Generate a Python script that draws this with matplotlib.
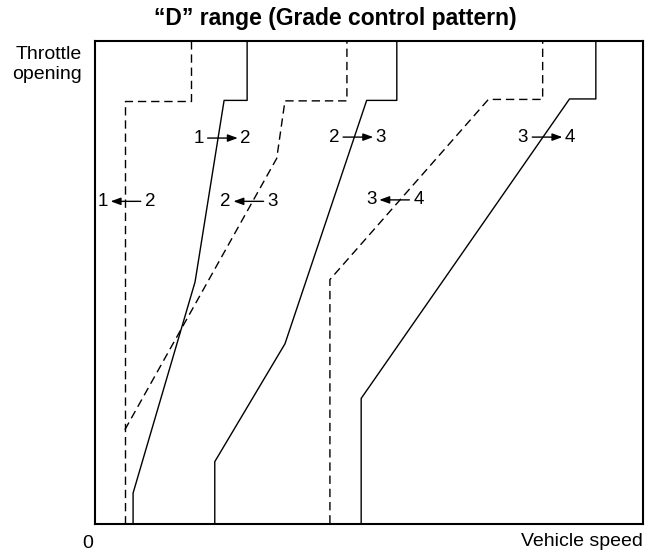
import matplotlib
matplotlib.use("Agg")
import matplotlib.pyplot as plt

plt.rcParams['font.family'] = ['Liberation Sans', 'DejaVu Sans']

# shift lines, x = vehicle speed (%), y = throttle opening (%)
up12_x = [7.0, 7.0, 18.3, 23.6, 27.8, 27.8]
up12_y = [0, 6.3, 50.0, 87.6, 87.6, 100]
down21_x = [5.5, 5.5, 17.6, 17.6]
down21_y = [0, 87.5, 87.5, 100]

up23_x = [21.9, 21.9, 34.7, 49.6, 55.1, 55.1]
up23_y = [0, 12.8, 37.2, 87.6, 87.6, 100]
down32_x = [5.5, 33.2, 34.7, 46.0, 46.0]
down32_y = [19.4, 75.6, 87.5, 87.5, 100]

up34_x = [48.6, 48.6, 86.6, 91.4, 91.4]
up34_y = [0, 25.9, 87.9, 87.9, 100]
down43_x = [42.9, 42.9, 71.8, 81.7, 81.7]
down43_y = [0, 50.5, 87.8, 87.8, 100]

# shift labels: (from, to, direction, x, y)
labels = [
    ("1", "2", "up", 23.2, 79.8),
    ("2", "3", "up", 47.9, 80.0),
    ("3", "4", "up", 82.4, 80.0),
    ("1", "2", "down", 5.8, 66.7),
    ("2", "3", "down", 28.2, 66.7),
    ("3", "4", "down", 54.8, 67.0),
]

W, H = 655, 556
fig = plt.figure(figsize=(W / 100, H / 100), dpi=100)
left, right, top, bottom = 94.7, 643.0, 40.5, 523.5
ax = fig.add_axes([left / W, 1 - bottom / H, (right - left) / W, (bottom - top) / H])

solid = dict(color='black', lw=1.0)
dashed = dict(color='black', lw=1.0, linestyle=(0, (6, 3.5)))

ax.plot(up12_x, up12_y, **solid)
ax.plot(up23_x, up23_y, **solid)
ax.plot(up34_x, up34_y, **solid)
ax.plot(down21_x, down21_y, **dashed)
ax.plot(down32_x, down32_y, **dashed)
ax.plot(down43_x, down43_y, **dashed)

for a, b, direction, x, y in labels:
    ax.text(x - 4.3, y, a, ha='center', va='center', fontsize=13.5)
    ax.text(x + 4.3, y, b, ha='center', va='center', fontsize=13.5)
    if direction == "up":
        start, end = x - 2.6, x + 2.9
    else:
        start, end = x + 2.6, x - 2.9
    ax.annotate("", xy=(end, y), xytext=(start, y),
                arrowprops=dict(arrowstyle='-|>,head_length=0.6,head_width=0.22',
                                color='black', lw=1.0, shrinkA=0, shrinkB=0))

ax.set_xlim(0, 100)
ax.set_ylim(0, 100)
ax.set_xticks([])
ax.set_yticks([])
for s in ax.spines.values():
    s.set_linewidth(1.5)
    s.set_color('black')

fig.text(335 / W, 1 - 18 / H, "\u201cD\u201d range (Grade control pattern)",
         ha='center', va='center', fontsize=16.5, fontweight='bold')
fig.text(82 / W, 1 - 46 / H, "Throttle\nopening", ha='right', va='top',
         fontsize=14, linespacing=1.2)
fig.text(88 / W, 1 - 543.5 / H, "0", ha='center', va='center', fontsize=14)
fig.text(643 / W, 1 - 541 / H, "Vehicle speed", ha='right', va='center', fontsize=14)

fig.savefig("out.png", dpi=100)
